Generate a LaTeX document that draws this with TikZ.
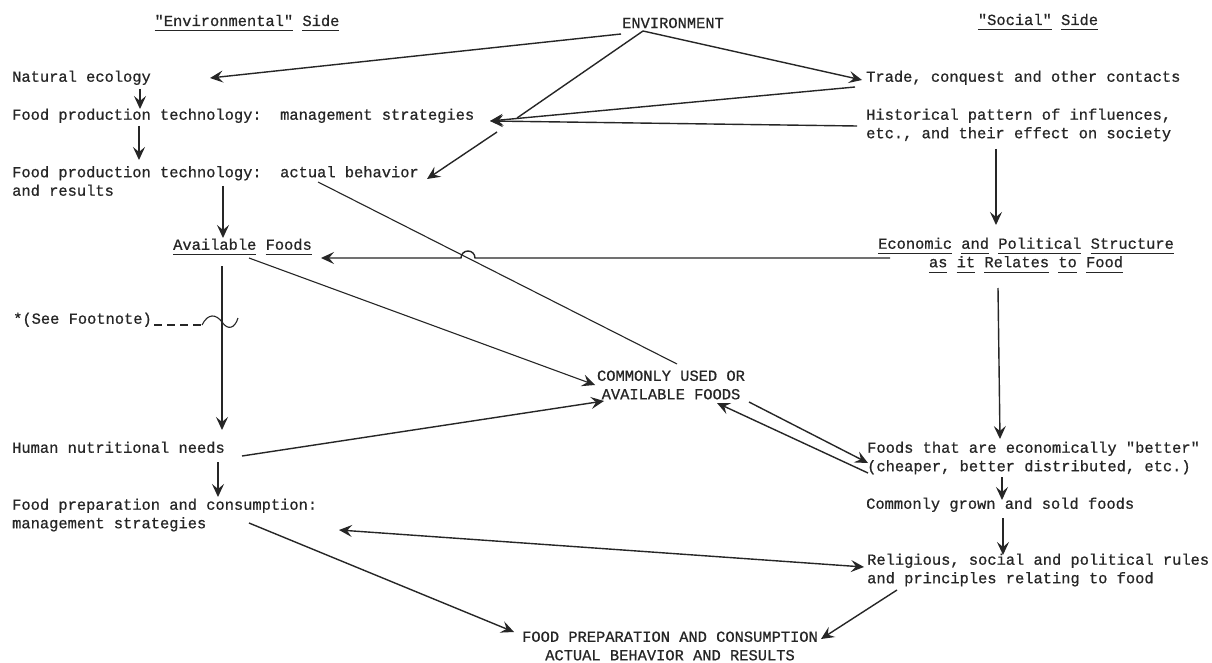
\documentclass[tikz,border=0pt]{standalone}
\usepackage{fontspec}
\setmonofont{Liberation Mono}[FakeBold=0.7]
\usetikzlibrary{arrows.meta}
\definecolor{ink}{HTML}{262626}
\newcommand\ulw[1]{\underline{\vphantom{gy}#1}}
\begin{document}
\begin{tikzpicture}[x=1pt,y=-1pt,
  every node/.style={font=\ttfamily\fontsize{15.4}{18.5}\selectfont, text=ink, inner sep=0pt},
  lbl/.style={anchor=west, text height=10.5pt, text depth=3pt},
  lbltwo/.style={anchor=west, align=left},
  tip/.tip={Stealth[length=13pt,width=12pt,inset=5pt]},
  arr/.style={draw=ink, line width=1.4pt, -tip},
  both/.style={draw=ink, line width=1.4pt, tip-tip},
  link/.style={draw=ink, line width=1.4pt},
  thinlink/.style={draw=ink, line width=1.1pt}]
\useasboundingbox[fill=white] (0,0) rectangle (1212,663);

% ---- headings
\node (envside) at (247,23) {\ulw{"Environmental"} \ulw{Side}};
\node (env) at (673,23) {ENVIRONMENT};
\node (socside) at (1038,22) {\ulw{"Social"} \ulw{Side}};

% ---- environmental side
\node[lbl] (nat) at (12,78) {Natural ecology};
\node[lbl] (fpm) at (12,116) {Food production technology:\ \ management strategies};
\node[lbltwo] (fpa) at (12,181) {Food production technology:\ \ actual behavior\\and results};
\node[lbl] (avail) at (173,246) {\ulw{Available} \ulw{Foods}};
\node[lbl] (foot) at (13,320) {*(See Footnote)};
\node[lbl] (hum) at (12,449) {Human nutritional needs};
\node[lbltwo] (fpc) at (12,515) {Food preparation and consumption:\\management strategies};

% ---- social side
\node[lbl] (trade) at (866,78) {Trade, conquest and other contacts};
\node[lbltwo] (hist) at (866,125) {Historical pattern of influences,\\etc., and their effect on society};
\node[align=center] (econ) at (1026,255) {\ulw{Economic} \ulw{and} \ulw{Political} \ulw{Structure}\\\ulw{as} \ulw{it} \ulw{Relates} \ulw{to} \ulw{Food}};
\node[lbltwo] (better) at (867,458) {Foods that are economically "better"\\(cheaper, better distributed, etc.)};
\node[lbl] (grown) at (866,505) {Commonly grown and sold foods};
\node[lbltwo] (relig) at (867,570) {Religious, social and political rules\\and principles relating to food};

% ---- centre
\node[align=center] (common) at (671,385) {COMMONLY USED OR\\AVAILABLE FOODS};
\node[align=center] (fpact) at (670,646) {FOOD PREPARATION AND CONSUMPTION\\ACTUAL BEHAVIOR AND RESULTS};

% ---- connector end points
\coordinate (envL) at (621,34);
\coordinate (envA) at (643,31);
\coordinate (natIn) at (210,78);
\coordinate (fpmJoin) at (517,118);
\coordinate (fpmIn) at (490,121);
\coordinate (tradeIn) at (862,80);
\coordinate (tradeOut) at (855,87);
\coordinate (histOut) at (857,126);
\coordinate (fpmOut) at (497,132);
\coordinate (fpaIn) at (427,179);
\coordinate (natBot) at (140,89);
\coordinate (fpmTop) at (140,109);
\coordinate (fpmBot) at (139,126);
\coordinate (fpaTop) at (139,160);
\coordinate (fpaBot) at (223,186);
\coordinate (availTop) at (223,238);
\coordinate (fpaOut) at (318,182);
\coordinate (commonTop) at (677,364);
\coordinate (econOut) at (890,258);
\coordinate (availIn) at (321,258);
\coordinate (availBot) at (222,266);
\coordinate (humTop) at (222,430);
\coordinate (availOut) at (249,258);
\coordinate (commonInA) at (595,385);
\coordinate (humOut) at (242,456);
\coordinate (commonInB) at (604,401);
\coordinate (histBot) at (996,149);
\coordinate (econTop) at (996,225);
\coordinate (econBot) at (998,288);
\coordinate (betterTop) at (1000,439);
\coordinate (commonOut) at (749,402);
\coordinate (betterIn) at (868,463);
\coordinate (betterOut) at (868,473);
\coordinate (commonInC) at (717,403);
\coordinate (betterBot) at (1002,477);
\coordinate (grownTop) at (1002,500);
\coordinate (grownBot) at (1003,518);
\coordinate (religTop) at (1003,555);
\coordinate (humBot) at (218,462);
\coordinate (fpcTop) at (218,497);
\coordinate (fpcIn) at (339,530);
\coordinate (religIn) at (864,567);
\coordinate (fpcOut) at (249,523);
\coordinate (fpactInA) at (514,632);
\coordinate (religOut) at (897,590);
\coordinate (fpactInB) at (821,639);
\coordinate (footEnd) at (202,325);

% ---- connectors
\draw[arr] (envL) -- (natIn);
\draw[link] (envA) -- (fpmJoin);
\draw[arr] (envA) -- (tradeIn);
\draw[arr] (tradeOut) -- (fpmIn);
\draw[arr] (histOut) -- (fpmIn);
\draw[arr] (fpmOut) -- (fpaIn);
\draw[arr] (natBot) -- (fpmTop);
\draw[arr] (fpmBot) -- (fpaTop);
\draw[arr] (fpaBot) -- (availTop);
\draw[thinlink] (fpaOut) -- (commonTop);
\draw[arr] (econOut) -- (475,258) arc (0:-180:7) -- (availIn);
\draw[arr] (availBot) -- (humTop);
\draw[arr, line width=1.1pt] (availOut) -- (commonInA);
\draw[arr] (humOut) -- (commonInB);
\draw[arr] (histBot) -- (econTop);
\draw[arr] (econBot) -- (betterTop);
\draw[arr] (commonOut) -- (betterIn);
\draw[arr] (betterOut) -- (commonInC);
\draw[arr] (betterBot) -- (grownTop);
\draw[arr] (grownBot) -- (religTop);
\draw[arr] (humBot) -- (fpcTop);
\draw[both] (fpcIn) -- (religIn);
\draw[arr] (fpcOut) -- (fpactInA);
\draw[arr] (religOut) -- (fpactInB);

% footnote marker
\draw[thinlink, dash pattern=on 8pt off 5pt] (foot.east) ++(2,5) -- (footEnd);
\draw[thinlink] (footEnd) .. controls (208,313) and (216,314) .. (222,322)
  .. controls (228,331) and (235,328) .. (238,318);
\end{tikzpicture}
\end{document}
